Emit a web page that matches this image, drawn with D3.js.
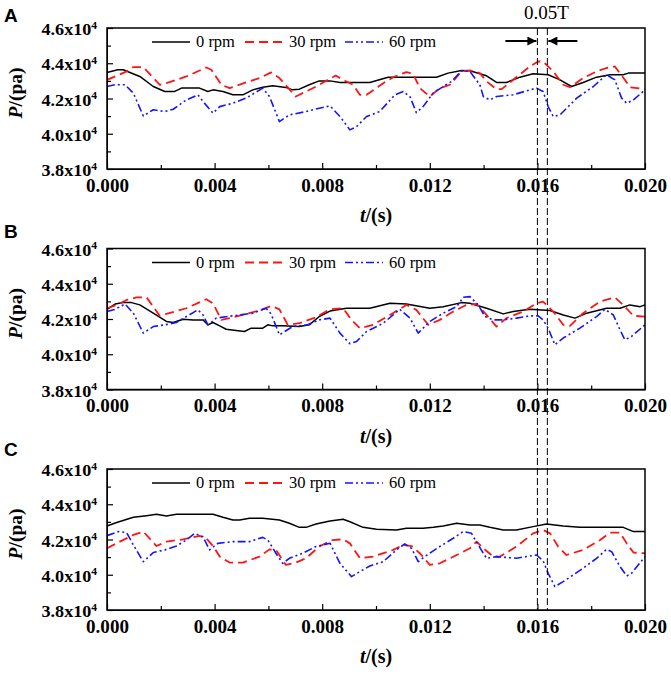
<!DOCTYPE html>
<html>
<head>
<meta charset="utf-8">
<script src="https://cdn.jsdelivr.net/npm/d3@7"></script>
<style>
  body { margin: 0; background: #fff; }
  svg { display: block; }
</style>
</head>
<body>
<svg id="chart"></svg>
<script>
// values: [t (s), P (x10^4 Pa)]
const A_0rpm = [[0,4.348],[0.0004,4.363],[0.0006,4.363],[0.00122,4.325],[0.00172,4.268],[0.00215,4.240],[0.00252,4.240],[0.00277,4.259],[0.00344,4.259],[0.00375,4.240],[0.00394,4.249],[0.00431,4.240],[0.00468,4.221],[0.00505,4.221],[0.00542,4.249],[0.00579,4.264],[0.00616,4.272],[0.00665,4.263],[0.0069,4.249],[0.00715,4.253],[0.00752,4.278],[0.00789,4.300],[0.00829,4.300],[0.00866,4.291],[0.00977,4.291],[0.01045,4.321],[0.01225,4.321],[0.01268,4.344],[0.01318,4.359],[0.01349,4.357],[0.01411,4.329],[0.01448,4.291],[0.01485,4.291],[0.01535,4.321],[0.01584,4.340],[0.0164,4.335],[0.01684,4.306],[0.01727,4.268],[0.0177,4.291],[0.0182,4.321],[0.0187,4.335],[0.01919,4.335],[0.01938,4.344],[0.020,4.344]];
const A_30rpm = [[0,4.306],[0.00036,4.329],[0.00073,4.354],[0.00098,4.378],[0.00135,4.378],[0.00196,4.278],[0.00221,4.287],[0.00295,4.325],[0.00369,4.376],[0.00388,4.363],[0.00425,4.278],[0.00456,4.259],[0.00517,4.291],[0.00567,4.316],[0.0061,4.348],[0.00641,4.316],[0.00702,4.211],[0.00715,4.221],[0.00777,4.268],[0.0085,4.330],[0.00878,4.306],[0.00915,4.278],[0.0094,4.221],[0.00965,4.221],[0.01027,4.287],[0.01064,4.321],[0.01113,4.350],[0.01138,4.340],[0.01163,4.259],[0.012,4.211],[0.01237,4.259],[0.01275,4.278],[0.01318,4.354],[0.01349,4.359],[0.01386,4.344],[0.01411,4.297],[0.01448,4.253],[0.01467,4.253],[0.0151,4.306],[0.01572,4.382],[0.01603,4.410],[0.01621,4.410],[0.01659,4.354],[0.01696,4.278],[0.01721,4.264],[0.0177,4.316],[0.0182,4.354],[0.01857,4.373],[0.01888,4.382],[0.01925,4.306],[0.01944,4.264],[0.020,4.253]];
const A_60rpm = [[0,4.268],[0.0003,4.278],[0.00067,4.278],[0.00098,4.230],[0.00135,4.101],[0.00172,4.136],[0.00215,4.126],[0.00246,4.139],[0.00295,4.192],[0.00338,4.221],[0.00357,4.183],[0.00394,4.117],[0.00419,4.154],[0.00468,4.173],[0.00517,4.202],[0.00579,4.259],[0.00604,4.211],[0.00641,4.069],[0.00678,4.107],[0.0074,4.126],[0.00789,4.145],[0.00829,4.158],[0.00866,4.098],[0.00903,4.022],[0.00928,4.041],[0.00965,4.098],[0.01014,4.126],[0.0107,4.221],[0.01101,4.240],[0.01126,4.211],[0.0115,4.120],[0.01175,4.154],[0.01213,4.232],[0.0125,4.268],[0.01281,4.297],[0.01318,4.357],[0.01349,4.354],[0.01386,4.278],[0.01399,4.211],[0.01423,4.192],[0.01448,4.211],[0.0151,4.221],[0.01572,4.249],[0.01597,4.259],[0.01621,4.240],[0.0164,4.154],[0.01659,4.098],[0.01684,4.107],[0.01746,4.202],[0.01808,4.268],[0.01857,4.335],[0.01888,4.306],[0.01913,4.202],[0.01932,4.173],[0.01957,4.192],[0.020,4.249]];

const B_0rpm = [[0,4.255],[0.0003,4.285],[0.0006,4.293],[0.00091,4.293],[0.00122,4.280],[0.00172,4.233],[0.00221,4.186],[0.00246,4.180],[0.00283,4.199],[0.0032,4.195],[0.00357,4.195],[0.00375,4.167],[0.00394,4.180],[0.00419,4.161],[0.00443,4.142],[0.0048,4.135],[0.00511,4.129],[0.00536,4.148],[0.00579,4.148],[0.00598,4.167],[0.00616,4.161],[0.00653,4.161],[0.00715,4.157],[0.00752,4.167],[0.00789,4.214],[0.00829,4.245],[0.0089,4.261],[0.00977,4.261],[0.01052,4.289],[0.01113,4.285],[0.012,4.261],[0.0125,4.270],[0.01318,4.293],[0.01349,4.289],[0.01411,4.261],[0.01473,4.229],[0.0151,4.242],[0.01572,4.255],[0.01647,4.248],[0.01696,4.223],[0.0174,4.205],[0.01783,4.233],[0.01857,4.261],[0.01907,4.261],[0.01944,4.280],[0.01982,4.270],[0.020,4.280]];
const B_30rpm = [[0,4.261],[0.00036,4.280],[0.00073,4.308],[0.0011,4.323],[0.00147,4.323],[0.00196,4.218],[0.00221,4.229],[0.00295,4.261],[0.00369,4.312],[0.00394,4.289],[0.00425,4.195],[0.00456,4.205],[0.00517,4.229],[0.00567,4.248],[0.0061,4.274],[0.00641,4.255],[0.00672,4.167],[0.00715,4.176],[0.00777,4.210],[0.00829,4.255],[0.00878,4.261],[0.00909,4.195],[0.0094,4.148],[0.00989,4.167],[0.01052,4.223],[0.01113,4.280],[0.0115,4.252],[0.01194,4.167],[0.01237,4.195],[0.01287,4.242],[0.01336,4.280],[0.01374,4.285],[0.01411,4.223],[0.01448,4.157],[0.01485,4.205],[0.01547,4.242],[0.01597,4.289],[0.01621,4.299],[0.01659,4.242],[0.01696,4.167],[0.01721,4.161],[0.0177,4.233],[0.01833,4.299],[0.01888,4.323],[0.01925,4.270],[0.01957,4.218],[0.020,4.214]];
const B_60rpm = [[0,4.242],[0.0003,4.255],[0.00067,4.285],[0.00098,4.233],[0.00135,4.120],[0.00172,4.157],[0.00215,4.167],[0.00258,4.180],[0.00295,4.214],[0.00338,4.252],[0.00357,4.223],[0.00375,4.167],[0.00406,4.205],[0.00468,4.218],[0.00542,4.233],[0.00591,4.261],[0.0061,4.229],[0.00641,4.110],[0.0069,4.157],[0.00746,4.167],[0.00789,4.195],[0.00829,4.205],[0.00866,4.120],[0.00903,4.060],[0.00928,4.073],[0.00965,4.129],[0.01027,4.176],[0.01088,4.255],[0.01126,4.205],[0.01157,4.120],[0.012,4.186],[0.0125,4.233],[0.013,4.270],[0.01324,4.323],[0.01349,4.327],[0.0138,4.280],[0.01405,4.214],[0.01436,4.195],[0.01473,4.195],[0.01522,4.205],[0.01572,4.218],[0.01603,4.218],[0.01621,4.195],[0.0164,4.148],[0.01665,4.054],[0.01696,4.092],[0.01758,4.148],[0.0182,4.214],[0.01851,4.255],[0.01882,4.223],[0.01907,4.139],[0.01925,4.082],[0.0195,4.101],[0.020,4.167]];

const C_0rpm = [[0,4.277],[0.00036,4.296],[0.00098,4.326],[0.00147,4.335],[0.00184,4.343],[0.00221,4.333],[0.00258,4.343],[0.00394,4.343],[0.00431,4.326],[0.00468,4.311],[0.00493,4.311],[0.0053,4.320],[0.00579,4.320],[0.00641,4.311],[0.00678,4.292],[0.00715,4.269],[0.0074,4.269],[0.00777,4.288],[0.00829,4.305],[0.00878,4.315],[0.00903,4.301],[0.00952,4.269],[0.01002,4.258],[0.01076,4.254],[0.01113,4.264],[0.01175,4.264],[0.01213,4.269],[0.0125,4.277],[0.013,4.292],[0.01349,4.282],[0.01386,4.282],[0.01423,4.269],[0.01473,4.254],[0.01522,4.254],[0.01584,4.273],[0.01634,4.288],[0.01696,4.277],[0.01758,4.269],[0.01919,4.269],[0.01957,4.245],[0.020,4.245]];
const C_30rpm = [[0,4.150],[0.00048,4.188],[0.00098,4.226],[0.00135,4.245],[0.00184,4.163],[0.00221,4.188],[0.00283,4.201],[0.00344,4.220],[0.00369,4.207],[0.00394,4.163],[0.00419,4.103],[0.00456,4.069],[0.00505,4.069],[0.00567,4.103],[0.00604,4.144],[0.00628,4.141],[0.00665,4.056],[0.00702,4.069],[0.0074,4.094],[0.00789,4.160],[0.00838,4.197],[0.00878,4.201],[0.00903,4.178],[0.0094,4.094],[0.00989,4.103],[0.01064,4.141],[0.01101,4.169],[0.01132,4.163],[0.01163,4.122],[0.012,4.056],[0.01237,4.065],[0.013,4.112],[0.01349,4.150],[0.01374,4.188],[0.01399,4.150],[0.01436,4.103],[0.01461,4.103],[0.01522,4.160],[0.01584,4.235],[0.01621,4.254],[0.01647,4.235],[0.01677,4.160],[0.01708,4.112],[0.0177,4.141],[0.01833,4.197],[0.0187,4.239],[0.01907,4.239],[0.01932,4.178],[0.01957,4.126],[0.020,4.122]];
const C_60rpm = [[0,4.222],[0.00042,4.245],[0.00073,4.239],[0.00098,4.169],[0.00135,4.074],[0.00172,4.126],[0.00215,4.141],[0.00258,4.163],[0.00295,4.197],[0.00326,4.235],[0.00357,4.216],[0.00381,4.141],[0.00412,4.178],[0.00468,4.188],[0.0053,4.188],[0.00579,4.212],[0.00598,4.197],[0.00628,4.122],[0.00653,4.065],[0.00678,4.093],[0.00727,4.122],[0.00777,4.160],[0.00829,4.179],[0.00866,4.065],[0.00909,3.989],[0.0094,4.018],[0.00977,4.050],[0.01027,4.074],[0.01076,4.141],[0.01107,4.175],[0.01132,4.150],[0.01157,4.074],[0.01181,4.103],[0.01237,4.160],[0.01287,4.207],[0.01324,4.245],[0.01355,4.235],[0.0138,4.169],[0.01411,4.093],[0.01448,4.103],[0.01522,4.094],[0.01597,4.112],[0.01621,4.080],[0.0164,4.008],[0.01665,3.933],[0.01696,3.961],[0.0177,4.037],[0.0182,4.093],[0.01857,4.144],[0.01876,4.131],[0.01907,4.046],[0.01932,3.993],[0.0195,4.008],[0.020,4.103]];

const seriesNames = ["0 rpm", "30 rpm", "60 rpm"];
const panelNames = ["A", "B", "C"];
const xMajorTicks = [0, 0.004, 0.008, 0.012, 0.016, 0.020];
const xMinorTicks = [0.002, 0.006, 0.010, 0.014, 0.018];
const yMajorTicks = [3.8, 4.0, 4.2, 4.4, 4.6];
const yMinorTicks = [3.9, 4.1, 4.3, 4.5];
const markerTimes = [0.016, 0.01637];
const markerLabel = "0.05T";

const panelData = [
    [A_0rpm, A_30rpm, A_60rpm],
    [B_0rpm, B_30rpm, B_60rpm],
    [C_0rpm, C_30rpm, C_60rpm]
];

// layout and styles
const W = 671, H = 674;
const plotLeft = 107, plotRight = 645, plotH = 141;
const panelTops = [28, 248.5, 469];
const letterY = [22, 238, 456];
const colors = ["#000000", "#ff1414", "#1414ff"];
const dashes = [null, "9,5", "8,3,2,3,2,3"];
const widths = [1.5, 1.8, 1.6];
const serif = "'Liberation Serif', 'Times New Roman', serif";

const svg = d3.select("#chart").attr("width", W).attr("height", H);
svg.append("rect").attr("width", W).attr("height", H).attr("fill", "#fff");

const xScale = d3.scaleLinear().domain([0, 0.020]).range([plotLeft, plotRight]);

panelData.forEach((series, pi) => {
    const top = panelTops[pi];
    const yScale = d3.scaleLinear().domain([3.8, 4.6]).range([top + plotH, top]);
    const g = svg.append("g");

    // panel letter
    g.append("text")
        .attr("x", 4).attr("y", letterY[pi])
        .text(panelNames[pi])
        .style("font-family", "'Liberation Sans', Arial, sans-serif")
        .style("font-weight", "bold")
        .style("font-size", "19px");

    // lines
    const line = d3.line().x(d => xScale(d[0])).y(d => yScale(d[1]));
    series.forEach((s, si) => {
        g.append("path")
            .datum(s)
            .attr("d", line)
            .attr("fill", "none")
            .attr("stroke", colors[si])
            .attr("stroke-width", widths[si])
            .attr("stroke-dasharray", dashes[si])
            .attr("stroke-linejoin", "round");
    });

    // x axis (inward ticks)
    const xAxisG = g.append("g")
        .attr("transform", `translate(0, ${top + plotH})`)
        .call(d3.axisBottom(xScale).tickValues(xMajorTicks).tickSizeInner(-6).tickSizeOuter(0)
            .tickPadding(12).tickFormat(d3.format(".3f")));
    g.append("g")
        .attr("transform", `translate(0, ${top + plotH})`)
        .call(d3.axisBottom(xScale).tickValues(xMinorTicks).tickSizeInner(-4).tickSizeOuter(0).tickFormat(""))
        .select(".domain").remove();
    xAxisG.selectAll("text")
        .attr("dy", null).attr("y", 23)
        .attr("transform", "scale(1.06,1)")
        .style("font-family", serif).style("font-weight", "bold").style("font-size", "18px").attr("fill", "#000");

    // y axis
    const yAxisG = g.append("g")
        .attr("transform", `translate(${plotLeft}, 0)`)
        .call(d3.axisLeft(yScale).tickValues(yMajorTicks).tickSizeInner(-6).tickSizeOuter(0).tickPadding(8)
            .tickFormat(d3.format(".1f")));
    g.append("g")
        .attr("transform", `translate(${plotLeft}, 0)`)
        .call(d3.axisLeft(yScale).tickValues(yMinorTicks).tickSizeInner(-4).tickSizeOuter(0).tickFormat(""))
        .select(".domain").remove();
    yAxisG.selectAll("text").each(function(d) {
        const t = d3.select(this);
        t.text(null).attr("x", -9).attr("dy", null).attr("y", 6.5)
            .attr("transform", "scale(1.1,1)")
            .style("font-family", serif).style("font-weight", "bold").style("font-size", "16.5px").attr("fill", "#000");
        t.append("tspan").text(d3.format(".1f")(d) + "x10");
        t.append("tspan").text("4").attr("dy", "-0.6em").style("font-size", "10.5px");
    });
    svg.selectAll(".tick line").attr("stroke-width", 1.2);

    // frame
    g.append("rect")
        .attr("x", plotLeft).attr("y", top)
        .attr("width", plotRight - plotLeft).attr("height", plotH)
        .attr("fill", "none").attr("stroke", "#000").attr("stroke-width", 1.5);

    // axis titles
    const yt = g.append("text")
        .attr("transform", `translate(22, ${top + 65}) rotate(-90)`)
        .attr("text-anchor", "middle")
        .style("font-family", serif).style("font-weight", "bold").style("font-size", "19.5px");
    yt.append("tspan").text("P").style("font-style", "italic");
    yt.append("tspan").text("/(pa)");

    const xt = g.append("text")
        .attr("x", (plotLeft + plotRight) / 2).attr("y", top + plotH + 53)
        .attr("text-anchor", "middle")
        .style("font-family", serif).style("font-weight", "bold").style("font-size", "20px");
    xt.append("tspan").text("t").style("font-style", "italic");
    xt.append("tspan").text("/(s)");

    // legend
    const legX = [152, 245, 345];
    const legY = top + 14;
    seriesNames.forEach((name, si) => {
        g.append("line")
            .attr("x1", legX[si]).attr("x2", legX[si] + 38)
            .attr("y1", legY).attr("y2", legY)
            .attr("stroke", colors[si]).attr("stroke-width", widths[si])
            .attr("stroke-dasharray", dashes[si]);
        g.append("text")
            .attr("x", legX[si] + 44).attr("y", legY + 5)
            .text(name)
            .style("font-family", serif).style("font-size", "16.5px");
    });
});

// dashed marker lines spanning all panels
markerTimes.forEach(t => {
    svg.append("line")
        .attr("x1", xScale(t)).attr("x2", xScale(t))
        .attr("y1", panelTops[0]).attr("y2", panelTops[2] + plotH)
        .attr("stroke", "#000").attr("stroke-width", 1)
        .attr("stroke-dasharray", "7,3");
});

// arrows and label
const defs = svg.append("defs");
defs.append("marker")
    .attr("id", "arrowhead")
    .attr("viewBox", "0 0 10 10")
    .attr("refX", 10).attr("refY", 5)
    .attr("markerWidth", 11).attr("markerHeight", 9)
    .attr("markerUnits", "userSpaceOnUse")
    .attr("orient", "auto")
    .append("path").attr("d", "M0,0 L10,5 L0,10 Z").attr("fill", "#000");

const arrowY = panelTops[0] + 13;
const m0 = xScale(markerTimes[0]), m1 = xScale(markerTimes[1]);
svg.append("line")
    .attr("x1", m0 - 32).attr("x2", m0 - 1).attr("y1", arrowY).attr("y2", arrowY)
    .attr("stroke", "#000").attr("stroke-width", 2).attr("marker-end", "url(#arrowhead)");
svg.append("line")
    .attr("x1", m1 + 30).attr("x2", m1 + 1).attr("y1", arrowY).attr("y2", arrowY)
    .attr("stroke", "#000").attr("stroke-width", 2).attr("marker-end", "url(#arrowhead)");

svg.append("text")
    .attr("x", (m0 + m1) / 2 + 4).attr("y", 19)
    .attr("text-anchor", "middle")
    .text(markerLabel)
    .style("font-family", serif).style("font-size", "19px");
</script>
</body>
</html>
